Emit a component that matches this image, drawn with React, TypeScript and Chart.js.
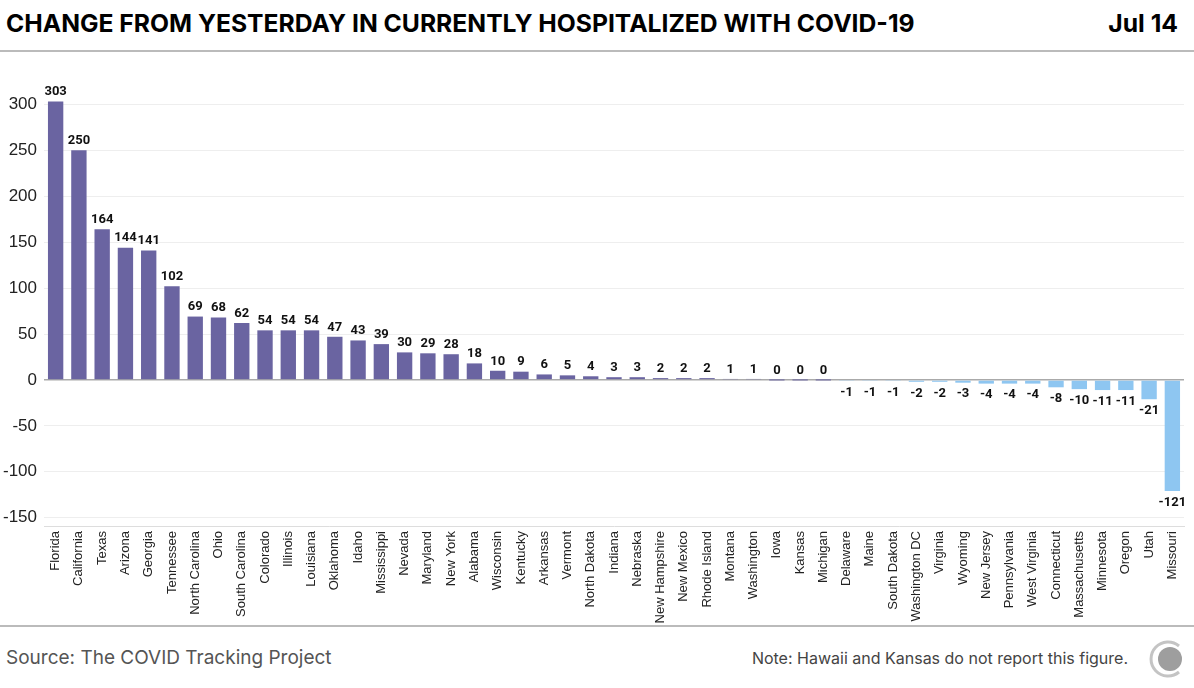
import React, { useEffect, useRef } from "react";
import { Chart, registerables } from "chart.js";

Chart.register(...registerables);

const states = [
  "Florida", "California", "Texas", "Arizona", "Georgia", "Tennessee", "North Carolina", "Ohio",
  "South Carolina", "Colorado", "Illinois", "Louisiana", "Oklahoma", "Idaho", "Mississippi", "Nevada",
  "Maryland", "New York", "Alabama", "Wisconsin", "Kentucky", "Arkansas", "Vermont", "North Dakota",
  "Indiana", "Nebraska", "New Hampshire", "New Mexico", "Rhode Island", "Montana", "Washington", "Iowa",
  "Kansas", "Michigan", "Delaware", "Maine", "South Dakota", "Washington DC", "Virginia", "Wyoming",
  "New Jersey", "Pennsylvania", "West Virginia", "Connecticut", "Massachusetts", "Minnesota", "Oregon",
  "Utah", "Missouri",
];

const changes = [
  303, 250, 164, 144, 141, 102, 69, 68,
  62, 54, 54, 54, 47, 43, 39, 30,
  29, 28, 18, 10, 9, 6, 5, 4,
  3, 3, 2, 2, 2, 1, 1, 0,
  0, 0, -1, -1, -1, -2, -2, -3,
  -4, -4, -4, -8, -10, -11, -11,
  -21, -121,
];

const yTickStep = 50;
const titleText = "CHANGE FROM YESTERDAY IN CURRENTLY HOSPITALIZED WITH COVID-19";
const dateText = "Jul 14";
const sourceText = "Source: The COVID Tracking Project";
const noteText = "Note: Hawaii and Kansas do not report this figure.";

const POS = "#6a64a1";
const NEG = "#8ec6f1";

const valueLabels = {
  id: "valueLabels",
  afterDatasetsDraw(chart: any) {
    const ctx = chart.ctx;
    const meta = chart.getDatasetMeta(0);
    const data = chart.data.datasets[0].data as number[];
    ctx.save();
    ctx.font = "bold 13px Roboto, 'Liberation Sans', sans-serif";
    ctx.fillStyle = "#111";
    ctx.textAlign = "center";
    meta.data.forEach((bar: any, i: number) => {
      const v = data[i];
      if (v >= 0) {
        ctx.textBaseline = "bottom";
        ctx.fillText(String(v), bar.x, bar.y - 3);
      } else {
        ctx.textBaseline = "top";
        ctx.fillText(String(v), bar.x, bar.y + 5);
      }
    });
    ctx.restore();
  },
};

function BarChart() {
  const ref = useRef<HTMLCanvasElement | null>(null);
  useEffect(() => {
    if (!ref.current) return;
    const chart = new Chart(ref.current, {
      type: "bar",
      data: {
        labels: states,
        datasets: [
          {
            data: changes,
            backgroundColor: changes.map((v) => (v < 0 ? NEG : POS)),
            borderColor: changes.map((v) => (v < 0 ? NEG : POS)),
            borderWidth: 0,
            minBarLength: 1,
            barPercentage: 0.66,
            categoryPercentage: 1,
          },
        ],
      },
      options: {
        animation: false,
        responsive: false,
        maintainAspectRatio: false,
        layout: { padding: { top: 30, right: 10, left: 0, bottom: 0 } },
        plugins: { legend: { display: false }, tooltip: { enabled: false } },
        scales: {
          x: {
            grid: { display: false, drawTicks: false },
            border: { display: true, color: "#dddddd", width: 1 },
            ticks: {
              autoSkip: false,
              maxRotation: 90,
              minRotation: 90,
              padding: 5,
              color: "#222",
              font: { family: "'Liberation Sans', Arial, sans-serif", size: 13 },
            },
            afterFit: (s: any) => {
              s.height = 100;
            },
          },
          y: {
            min: -159,
            max: 320,
            grid: {
              drawTicks: false,
              color: (c: any) => (c.tick && c.tick.value === 0 ? "#aaaaaa" : "#eeeeee"),
              lineWidth: (c: any) => (c.tick && c.tick.value === 0 ? 1.5 : 1),
            },
            border: { display: false },
            ticks: {
              stepSize: yTickStep,
              includeBounds: false,
              padding: 7,
              color: "#222",
              font: { family: "'Liberation Sans', Arial, sans-serif", size: 17 },
            },
            afterFit: (s: any) => {
              s.width = 44;
            },
          },
        },
      },
      plugins: [valueLabels],
    });
    return () => chart.destroy();
  }, []);
  return <canvas ref={ref} width={1194} height={570} style={{ position: "absolute", left: 0, top: 56, width: 1194, height: 570 }} />;
}

export default function App() {
  useEffect(() => {
    document.body.style.margin = "0";
  }, []);
  return (
    <div style={{ position: "relative", width: 1194, height: 688, background: "#fff", overflow: "hidden" }}>
      <div
        style={{
          position: "absolute", left: 6, top: 8, fontFamily: "Inter, Roboto, sans-serif",
          fontWeight: 700, fontSize: 24.7, color: "#000", whiteSpace: "nowrap",
        }}
      >
        {titleText}
      </div>
      <div
        style={{
          position: "absolute", right: 16, top: 8, fontFamily: "Inter, Roboto, sans-serif",
          fontWeight: 700, fontSize: 24.7, color: "#000", whiteSpace: "nowrap",
        }}
      >
        {dateText}
      </div>
      <div style={{ position: "absolute", left: 0, top: 50, width: 1194, height: 2, background: "#bbbbbb" }} />
      <BarChart />
      <div style={{ position: "absolute", left: 0, top: 625, width: 1194, height: 2, background: "#bbbbbb" }} />
      <div
        style={{
          position: "absolute", left: 6, top: 646, fontFamily: "Inter, 'Noto Sans', sans-serif",
          fontSize: 19, color: "#555", whiteSpace: "nowrap",
        }}
      >
        {sourceText}
      </div>
      <div
        style={{
          position: "absolute", right: 66, top: 648, fontFamily: "Inter, 'Noto Sans', sans-serif",
          fontSize: 16, color: "#444", whiteSpace: "nowrap",
        }}
      >
        {noteText}
      </div>
      <svg style={{ position: "absolute", left: 1148, top: 639 }} width={40} height={40} viewBox="0 0 40 40">
        <path d="M 31 7 A 17 17 0 1 0 31 33" fill="none" stroke="#c4c4c4" strokeWidth={3} />
        <circle cx={22} cy={20} r={12} fill="#9e9e9e" />
      </svg>
    </div>
  );
}
